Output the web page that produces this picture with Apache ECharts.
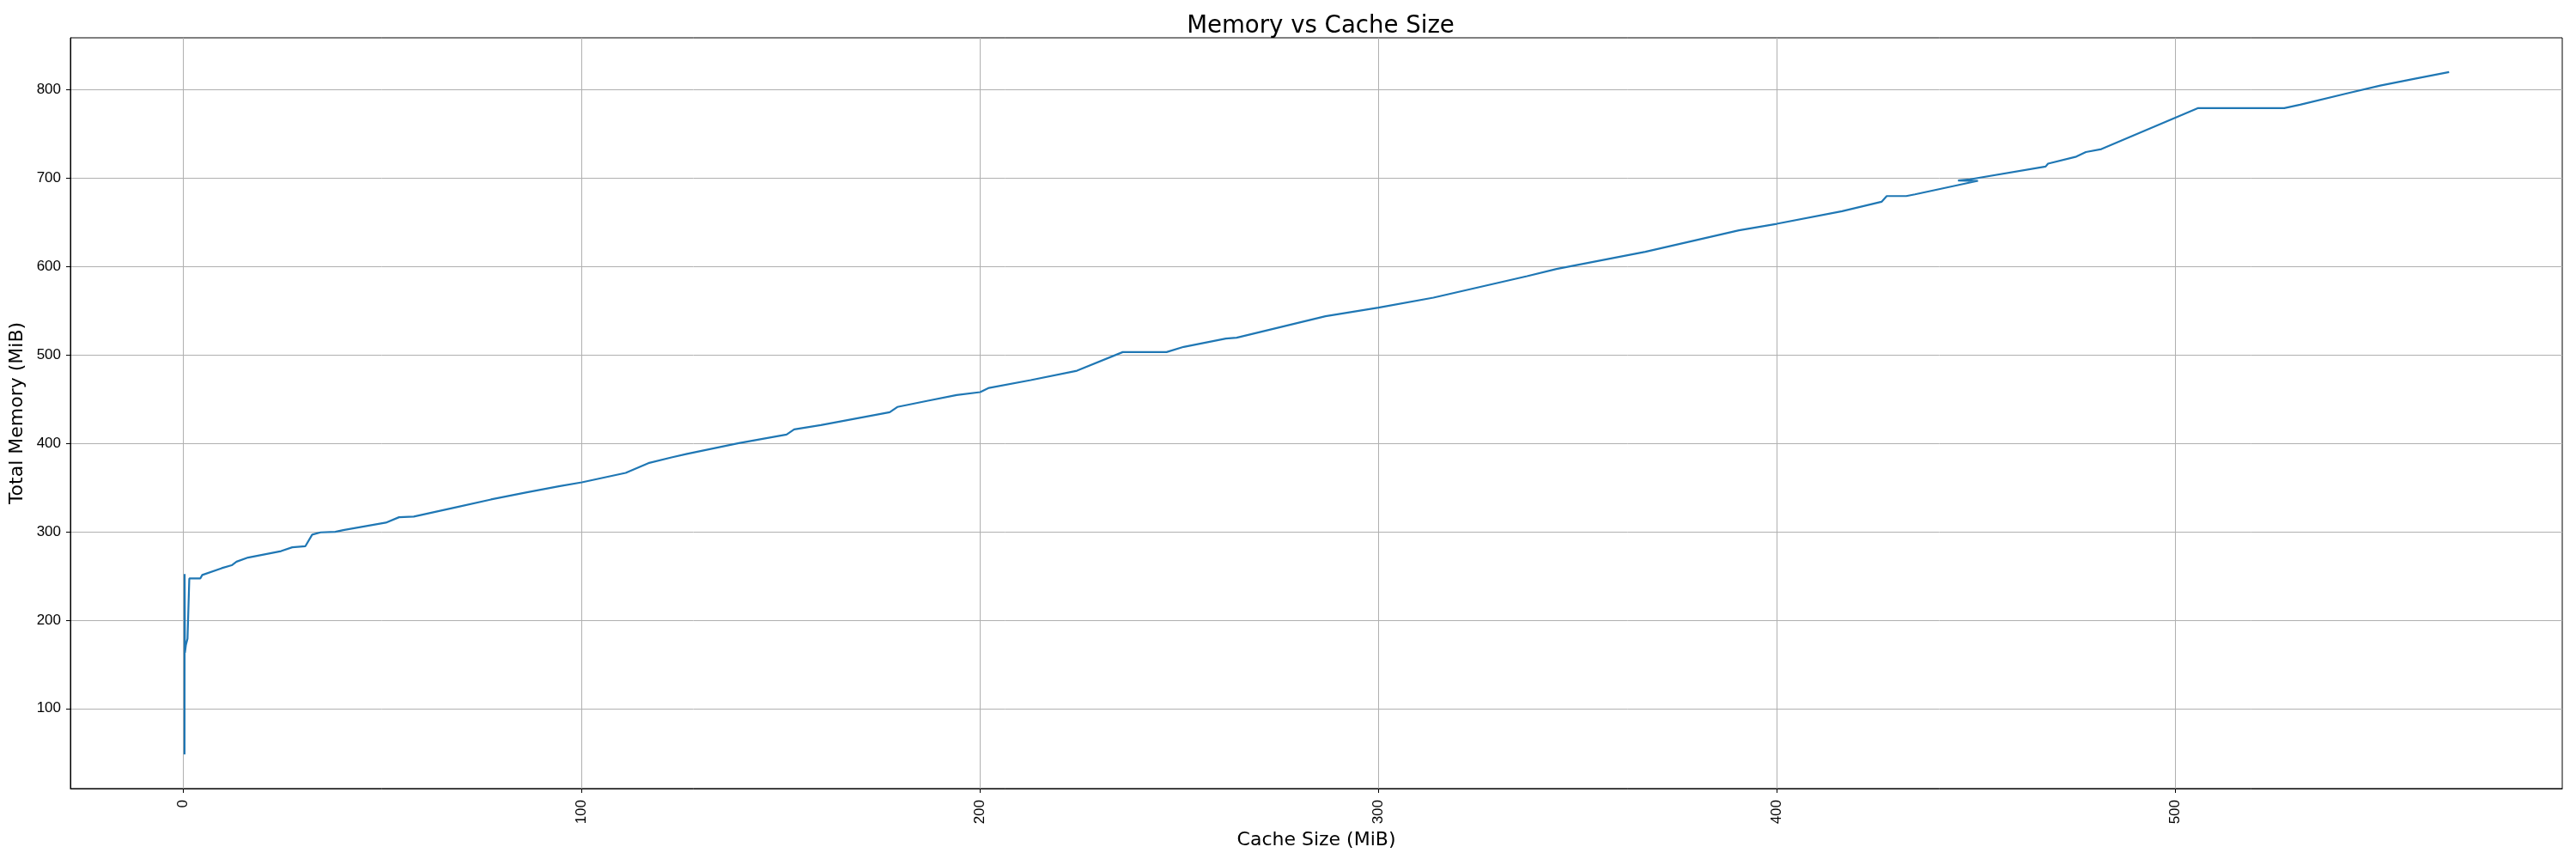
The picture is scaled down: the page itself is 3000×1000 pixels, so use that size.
<!DOCTYPE html>
<html>
<head>
<meta charset="utf-8">
<title>Memory vs Cache Size</title>
<script src="https://cdn.jsdelivr.net/npm/echarts@6/dist/echarts.min.js"></script>
<style>
  html, body { margin: 0; padding: 0; background: #fff; }
  #chart { width: 3000px; height: 1000px; }
</style>
</head>
<body>
<div id="chart"></div>
<script>
  // in plotting order
  const cacheSize = [
    0.25, 0.28, 0.35, 0.6, 1.0, 1.4, 1.45, 4.2, 4.7, 9.6,
    12.1, 13.3, 16.2, 24.5, 27.3, 30.6, 32.3, 34.4, 38.1, 40.1,
    50.8, 54.1, 57.8, 68.1, 77.2, 86.2, 94.5, 100, 111, 116.7,
    122.5, 126.4, 139.4, 151.4, 153.3, 160, 177.3, 179.2, 186.9, 194.1,
    200, 202.2, 212.7, 224.3, 235.8, 246.8, 251.1, 261.7, 264.4, 286.7,
    300, 313.8, 337.3, 344.7, 367, 390.5, 400, 416.4, 426.3, 427.6,
    432.5, 434.7, 450.5, 445.5, 448.5, 467.5, 468.1, 475.2, 477.6, 481.5,
    505.8, 527.4, 531.4, 542.9, 551.5, 560.2, 568.8
  ];
  const totalMemory = [
    48, 252, 163, 172, 179, 180, 247, 247, 251, 258.7,
    262, 266, 270.7, 278, 282.3, 283.6, 296.6, 299.2, 299.8, 301.7,
    310.2, 316.3, 317, 327.3, 336.4, 344.5, 351.6, 355.8, 366.5, 377.5,
    384, 388, 400.1, 409.9, 415.7, 420.5, 435.1, 441, 448.1, 454.6,
    457.8, 462.6, 471.4, 482, 503.1, 503.1, 509, 518.4, 519.4, 543.7,
    553.4, 564.7, 589, 597.1, 616.5, 640.8, 648.2, 662.5, 673.1, 679.6,
    679.6, 681.5, 696.8, 697.2, 698.5, 713, 716.3, 724.2, 729.4, 732.7,
    779.1, 779.1, 783, 795.4, 804.6, 812.4, 819.9
  ];
  const xTicks = [0, 100, 200, 300, 400, 500];
  const yTicks = [100, 200, 300, 400, 500, 600, 700, 800];

  let chart = echarts.init(document.getElementById('chart'), null, {renderer: 'canvas'});
  let font = 'DejaVu Sans';
  let tickFont = 'Liberation Sans';
  let points = cacheSize.map(function (x, i) {
    return [x, totalMemory[i]];
  });

  let option = {
    animation: false,
    backgroundColor: '#fff',
    title: {
      text: 'Memory vs Cache Size',
      left: 1533,
      textAlign: 'center',
      top: 12,
      textStyle: {
        fontFamily: font,
        fontSize: 27.6,
        fontWeight: 'normal',
        color: '#000'
      }
    },
    grid: {
      left: 82,
      right: 16,
      top: 44,
      bottom: 82,
      show: true,
      borderColor: '#000',
      borderWidth: 1
    },
    xAxis: {
      type: 'value',
      min: -28.4,
      max: 597.2,
      name: 'Cache Size (MiB)',
      nameLocation: 'middle',
      nameGap: 42,
      nameTextStyle: {fontFamily: font, fontSize: 22, color: '#000'},
      axisLine: {show: true, onZero: false, lineStyle: {color: '#000', width: 1}},
      axisTick: {show: true, length: 5, customValues: xTicks, lineStyle: {color: '#000'}},
      axisLabel: {
        customValues: xTicks,
        rotate: 90,
        margin: 13,
        fontFamily: tickFont,
        fontSize: 17,
        color: '#000'
      },
      splitLine: {show: true, lineStyle: {color: '#b0b0b0', width: 1}}
    },
    yAxis: {
      type: 'value',
      min: 9.4,
      max: 858.6,
      name: 'Total Memory (MiB)',
      nameLocation: 'middle',
      nameGap: 43,
      nameTextStyle: {fontFamily: font, fontSize: 22, color: '#000'},
      axisLine: {show: true, onZero: false, lineStyle: {color: '#000', width: 1}},
      axisTick: {show: true, length: 5, customValues: yTicks, lineStyle: {color: '#000'}},
      axisLabel: {
        customValues: yTicks,
        margin: 11,
        fontFamily: tickFont,
        fontSize: 17,
        color: '#000'
      },
      splitLine: {show: true, lineStyle: {color: '#b0b0b0', width: 1}}
    },
    series: [{
      type: 'line',
      data: points,
      showSymbol: false,
      symbol: 'none',
      lineStyle: {color: '#1f77b4', width: 2.2},
      itemStyle: {color: '#1f77b4'}
    }]
  };
  chart.setOption(option);
</script>
</body>
</html>
